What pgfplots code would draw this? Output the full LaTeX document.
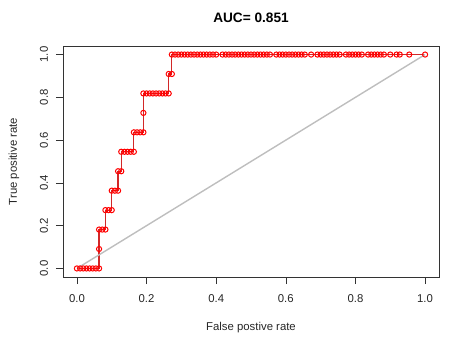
\documentclass[border=0pt]{standalone}
\usepackage{pgfplots}
\pgfplotsset{compat=1.18}
\usepackage{fontspec}
\setmainfont{Liberation Sans}
\usepackage{pgfplotstable}
\definecolor{diag}{RGB}{190,190,190}
\definecolor{rocline}{RGB}{210,40,40}
\pgfplotstableread{
x y
0 0
.0091 0
.0182 0
.0273 0
.0364 0
.0455 0
.0545 0
.0636 0
.0636 .0909
.0636 .1818
.0727 .1818
.0818 .1818
.0818 .2727
.0909 .2727
.1000 .2727
.1000 .3636
.1091 .3636
.1182 .3636
.1182 .4545
.1273 .4545
.1273 .5455
.1364 .5455
.1455 .5455
.1545 .5455
.1636 .5455
.1636 .6364
.1727 .6364
.1818 .6364
.1909 .6364
.1909 .7273
.1909 .8182
.2000 .8182
.2091 .8182
.2182 .8182
.2273 .8182
.2364 .8182
.2455 .8182
.2545 .8182
.2636 .8182
.2636 .9091
.2727 .9091
.2727 1
.2818 1
.2909 1
.3000 1
.3091 1
.3182 1
.3273 1
.3364 1
.3455 1
.3545 1
.3636 1
.3727 1
.3818 1
.3909 1
.4000 1
.4182 1
.4273 1
.4364 1
.4455 1
.4545 1
.4636 1
.4727 1
.4818 1
.4909 1
.5000 1
.5091 1
.5182 1
.5273 1
.5364 1
.5455 1
.5545 1
.5727 1
.5818 1
.5909 1
.6000 1
.6091 1
.6182 1
.6273 1
.6364 1
.6455 1
.6545 1
.6727 1
.6909 1
.7000 1
.7091 1
.7182 1
.7273 1
.7364 1
.7455 1
.7545 1
.7727 1
.7818 1
.7909 1
.8000 1
.8091 1
.8182 1
.8364 1
.8455 1
.8545 1
.8636 1
.8727 1
.8818 1
.9000 1
.9182 1
.9273 1
.9545 1
1 1
}\roc
\begin{document}
\begin{tikzpicture}
\useasboundingbox (-63bp,-64bp) rectangle (392bp,277bp);
\begin{axis}[
    at={(0,0)}, anchor=south west,
    scale only axis,
    width=376bp, height=231bp,
    xmin=-0.04, xmax=1.04,
    ymin=-0.04, ymax=1.04,
    axis line style={black!80, line width=0.7bp},
    xtick={0,0.2,0.4,0.6,0.8,1},
    ytick={0,0.2,0.4,0.6,0.8,1},
    xtick pos=bottom, ytick pos=left,
    tick align=outside,
    major tick length=7bp,
    tick style={black!80, line width=0.6bp},
    /pgf/number format/assume math mode=true,
    /pgf/number format/.cd, fixed, fixed zerofill, precision=1, /pgfplots/.cd,
    tick label style={font=\fontsize{11.4}{13}\selectfont, text=black!85},
    xticklabel style={anchor=center, yshift=-15bp},
    yticklabel style={anchor=center, xshift=-12bp, rotate=90},
    clip=false,
]
% ROC curve line
\addplot[rocline, line width=1.2bp, mark=none] table[x=x, y=y] {\roc};
% diagonal
\addplot[diag, line width=1.4bp, mark=none] coordinates {(0,0) (1,1)};
% circles
\addplot[only marks, mark=o, mark size=2.6bp, red, line width=1bp] table[x=x, y=y] {\roc};
\end{axis}
\node[font=\bfseries\fontsize{13.7}{15}\selectfont] at (188bp,259bp) {AUC= 0.851};
\node[font=\fontsize{11.4}{13}\selectfont, text=black!85] at (188bp,-51bp) {False postive rate};
\node[font=\fontsize{11.4}{13}\selectfont, text=black!85, rotate=90] at (-49bp,115.5bp) {True positive rate};
\end{tikzpicture}
\end{document}
